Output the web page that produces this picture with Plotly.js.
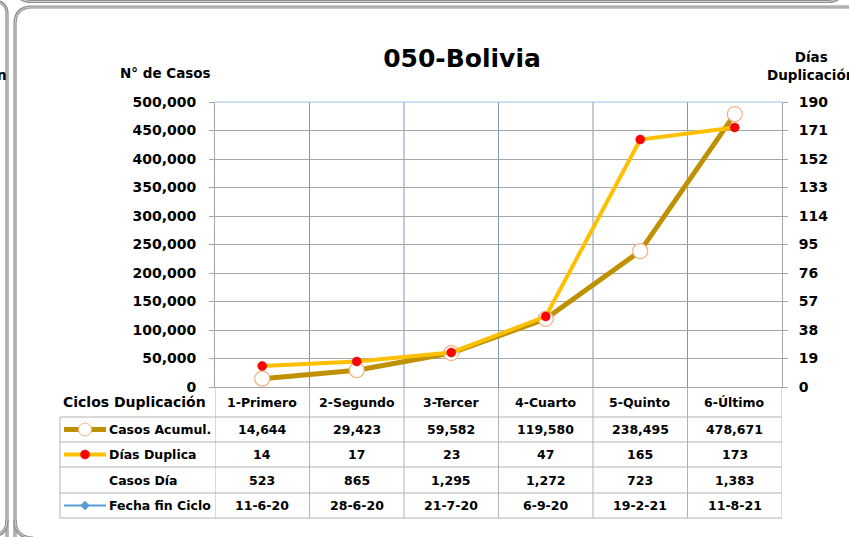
<!DOCTYPE html>
<html>
<head>
<meta charset="utf-8">
<script src="https://cdn.plot.ly/plotly-3.0.1.min.js"></script>
<style>
  html, body { margin: 0; padding: 0; background: #ffffff; }
  #chart { width: 849px; height: 537px; }
</style>
</head>
<body>
<div id="chart"></div>
<script>
// ---- data ----
const categories = ['1-Primero', '2-Segundo', '3-Tercer', '4-Cuarto', '5-Quinto', '6-Último'];
const casosAcumul = [14644, 29423, 59582, 119580, 238495, 478671];
const diasDuplica = [14, 17, 23, 47, 165, 173];
const casosDia = [523, 865, 1295, 1272, 723, 1383];
const fechaFinCiclo = ['11-6-20', '28-6-20', '21-7-20', '6-9-20', '19-2-21', '11-8-21'];
const rowLabels = ['Casos Acumul.', 'Días Duplica', 'Casos Día', 'Fecha fin Ciclo'];
const chartTitle = '050-Bolivia';
const leftTitle = 'N° de Casos';
const rightTitle = 'Días<br>Duplicación';
const headerLabel = 'Ciclos Duplicación';

// ---- layout geometry (pixels) ----
const L = 215, T = 102, W = 567, H = 285;
const fx = px => (px - L) / W;
const fy = py => (T + H - py) / H;
const FONT = 'DejaVu Sans';
const fmt = v => v.toLocaleString('en-US');

const shapes = [];
const annotations = [];

// frames (double grey rounded borders)
function framePath(pts) { return pts; }
const framePaths = [
  // left neighbour frame
  'M ' + fx(7) + ' ' + fy(545) + ' L ' + fx(7) + ' ' + fy(14) + ' Q ' + fx(7) + ' ' + fy(1) + ' ' + fx(-8) + ' ' + fy(1),
  // main frame
  'M ' + fx(15) + ' ' + fy(545) + ' L ' + fx(15) + ' ' + fy(24) + ' Q ' + fx(15) + ' ' + fy(7) + ' ' + fx(32) + ' ' + fy(7) + ' L ' + fx(860) + ' ' + fy(7),
  // top frame bottom edge
  'M ' + fx(17) + ' ' + fy(-12) + ' Q ' + fx(17) + ' ' + fy(1.5) + ' ' + fx(31) + ' ' + fy(1.5) + ' L ' + fx(828) + ' ' + fy(1.5) + ' Q ' + fx(842) + ' ' + fy(1.5) + ' ' + fx(842) + ' ' + fy(-12),
  // left frame bottom curve
  'M ' + fx(7) + ' ' + fy(520) + ' Q ' + fx(7) + ' ' + fy(536) + ' ' + fx(-9) + ' ' + fy(536),
  // main frame bottom curve
  'M ' + fx(15) + ' ' + fy(520) + ' Q ' + fx(15) + ' ' + fy(538) + ' ' + fx(33) + ' ' + fy(538)
];
framePaths.forEach(p => {
  shapes.push({type: 'path', xref: 'paper', yref: 'paper', path: p, line: {color: '#8c8c8c', width: 3.2}, layer: 'below'});
  shapes.push({type: 'path', xref: 'paper', yref: 'paper', path: p, line: {color: '#d4d4d4', width: 1}, layer: 'below'});
});

// vertical gridlines in plot area (category boundaries)
for (let i = 0; i < categories.length - 1; i++) {
  shapes.push({type: 'line', xref: 'x', yref: 'paper', x0: i + 0.5, x1: i + 0.5, y0: 0, y1: 1,
    line: {color: '#8497b0', width: 1}, layer: 'below'});
}
// top border line of plot (light blue)
shapes.push({type: 'line', xref: 'paper', yref: 'paper', x0: 0, x1: 1, y0: 1, y1: 1,
  line: {color: '#9dc3e6', width: 1}, layer: 'below'});

// data table lines
const tableColor = '#b3b3b3';
const rowLines = [417, 442, 467, 493, 518];
for (let i = 0; i <= categories.length; i++) {
  shapes.push({type: 'line', xref: 'x', yref: 'paper', x0: i - 0.5, x1: i - 0.5, y0: fy(387), y1: fy(518),
    line: {color: tableColor, width: 1}, layer: 'below'});
}
rowLines.forEach(y => {
  shapes.push({type: 'line', xref: 'paper', yref: 'paper', x0: fx(60), x1: fx(782), y0: fy(y), y1: fy(y),
    line: {color: tableColor, width: 1}, layer: 'below'});
});
shapes.push({type: 'line', xref: 'paper', yref: 'paper', x0: fx(60), x1: fx(60), y0: fy(417), y1: fy(518),
  line: {color: tableColor, width: 1}, layer: 'below'});

// legend keys in table
const rowY = [429.5, 454.5, 480, 505.5];
shapes.push({type: 'line', xref: 'paper', yref: 'paper', x0: fx(64), x1: fx(106), y0: fy(rowY[0]), y1: fy(rowY[0]),
  line: {color: '#bf9000', width: 5}});
shapes.push({type: 'circle', xref: 'paper', yref: 'paper', x0: fx(78.5), x1: fx(91.5), y0: fy(rowY[0] - 6.5), y1: fy(rowY[0] + 6.5),
  fillcolor: '#ffffff', line: {color: '#f4b183', width: 1}});
shapes.push({type: 'line', xref: 'paper', yref: 'paper', x0: fx(64), x1: fx(106), y0: fy(rowY[1]), y1: fy(rowY[1]),
  line: {color: '#ffc000', width: 4}});
shapes.push({type: 'circle', xref: 'paper', yref: 'paper', x0: fx(80.5), x1: fx(89.5), y0: fy(rowY[1] - 4.5), y1: fy(rowY[1] + 4.5),
  fillcolor: '#ff0000', line: {color: '#e00000', width: 0.5}});
shapes.push({type: 'line', xref: 'paper', yref: 'paper', x0: fx(64), x1: fx(106), y0: fy(rowY[3]), y1: fy(rowY[3]),
  line: {color: '#5b9bd5', width: 2}});
shapes.push({type: 'path', xref: 'paper', yref: 'paper',
  path: 'M ' + fx(85) + ' ' + fy(rowY[3] - 4.5) + ' L ' + fx(89.5) + ' ' + fy(rowY[3]) + ' L ' + fx(85) + ' ' + fy(rowY[3] + 4.5) + ' L ' + fx(80.5) + ' ' + fy(rowY[3]) + ' Z',
  fillcolor: '#5b9bd5', line: {color: '#5b9bd5', width: 0.5}});

// texts
const tFont = (size) => ({family: FONT, size: size, color: '#000000', weight: 'bold'});
annotations.push({xref: 'paper', yref: 'paper', x: fx(165), y: fy(73), text: leftTitle, showarrow: false,
  xanchor: 'center', yanchor: 'middle', font: tFont(13.5)});
annotations.push({xref: 'paper', yref: 'paper', x: fx(811), y: fy(66), text: rightTitle, showarrow: false,
  xanchor: 'center', yanchor: 'middle', align: 'center', font: tFont(13.5)});
annotations.push({xref: 'paper', yref: 'paper', x: fx(9), y: fy(75), text: 'n', showarrow: false,
  xanchor: 'right', yanchor: 'middle', font: tFont(13.5)});
annotations.push({xref: 'paper', yref: 'paper', x: fx(134), y: fy(402), text: headerLabel, showarrow: false,
  xanchor: 'center', yanchor: 'middle', font: tFont(14)});
categories.forEach((c, i) => {
  annotations.push({xref: 'x', yref: 'paper', x: c, y: fy(402), text: c, showarrow: false,
    xanchor: 'center', yanchor: 'middle', font: tFont(12.5)});
  const rowVals = [fmt(casosAcumul[i]), String(diasDuplica[i]), fmt(casosDia[i]), fechaFinCiclo[i]];
  rowVals.forEach((v, r) => {
    annotations.push({xref: 'x', yref: 'paper', x: c, y: fy(rowY[r]), text: v, showarrow: false,
      xanchor: 'center', yanchor: 'middle', font: tFont(12.5)});
  });
});
rowLabels.forEach((lab, r) => {
  annotations.push({xref: 'paper', yref: 'paper', x: fx(107), y: fy(rowY[r]), text: lab, showarrow: false,
    xanchor: 'left', yanchor: 'middle', font: tFont(12.5)});
});

const traces = [
  {
    type: 'scatter', mode: 'lines+markers', name: rowLabels[0],
    x: categories, y: casosAcumul, yaxis: 'y',
    line: {color: '#bf9000', width: 5},
    marker: {symbol: 'circle', size: 15, color: '#ffffff', line: {color: '#f4b183', width: 1.2}},
    cliponaxis: false
  },
  {
    type: 'scatter', mode: 'lines+markers', name: rowLabels[1],
    x: categories, y: diasDuplica, yaxis: 'y2',
    line: {color: '#ffc000', width: 4},
    marker: {symbol: 'circle', size: 9, color: '#ff0000', line: {color: '#d00000', width: 0.5}},
    cliponaxis: false
  }
];

const layout = {
  width: 849, height: 537,
  margin: {l: L, r: 849 - L - W, t: T, b: 537 - T - H, pad: 0},
  paper_bgcolor: '#ffffff', plot_bgcolor: '#ffffff',
  showlegend: false,
  title: {text: chartTitle, xref: 'container', yref: 'container', x: 462 / 849, y: 1 - 58 / 537,
    xanchor: 'center', yanchor: 'middle', font: {family: FONT, size: 25, color: '#000000', weight: 'bold'}},
  xaxis: {
    type: 'category', range: [-0.5, categories.length - 0.5], showticklabels: false,
    showgrid: false, zeroline: false, showline: true, linecolor: '#a6a6a6', linewidth: 1, ticks: '', fixedrange: true
  },
  yaxis: {
    range: [0, 500000], dtick: 50000, tick0: 0, tickformat: ',d',
    showgrid: true, gridcolor: '#a6a6a6', gridwidth: 1, zeroline: false,
    showline: true, linecolor: '#a6a6a6', linewidth: 1, ticks: 'outside', ticklen: 5, tickcolor: '#a6a6a6',
    ticklabelstandoff: 10,
    tickfont: {family: FONT, size: 14, color: '#000000', weight: 'bold'}, fixedrange: true
  },
  yaxis2: {
    overlaying: 'y', side: 'right', range: [0, 190], dtick: 19, tick0: 0,
    showgrid: false, zeroline: false,
    showline: true, linecolor: '#a6a6a6', linewidth: 1, ticks: 'outside', ticklen: 5, tickcolor: '#a6a6a6',
    ticklabelstandoff: 8,
    tickfont: {family: FONT, size: 14, color: '#000000', weight: 'bold'}, fixedrange: true
  },
  shapes: shapes,
  annotations: annotations
};

Plotly.newPlot('chart', traces, layout, {displayModeBar: false, staticPlot: true});
</script>
</body>
</html>
